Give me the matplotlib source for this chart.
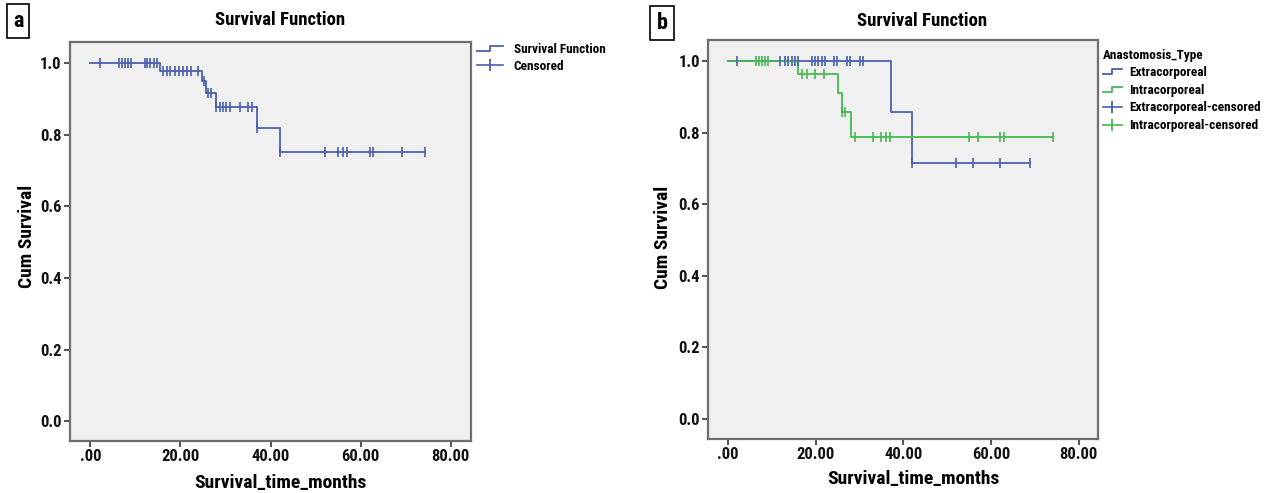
import numpy as np
import matplotlib
matplotlib.use("Agg")
import matplotlib.pyplot as plt
from matplotlib.legend_handler import HandlerBase
from matplotlib.lines import Line2D

# ---------------- data ----------------
# Panel a: overall
events_a = [15.4, 24.7, 25.6, 27.8, 37.0, 42.1]
surv_a = [0.978, 0.950, 0.917, 0.877, 0.818, 0.750]
censored_a = [2.1, 6.4, 7.0, 7.7, 8.4, 9.1, 12.1, 12.7, 13.3, 14.1, 14.8,
              16.2, 17.0, 17.8, 18.7, 19.6, 20.5, 21.4, 22.3, 23.9, 25.2,
              26.1, 26.9, 28.0, 28.7, 29.5, 30.2, 31.0, 33.2, 35.0, 35.8,
              37.0, 42.1, 52.1, 55.0, 56.1, 57.0, 62.1, 62.8, 69.1, 74.3]
end_a = 74.3

# Panel b: by anastomosis type
events_extra = [37.1, 42.0]
surv_extra = [0.857, 0.714]
censored_extra = [2.0, 11.9, 13.1, 13.8, 14.6, 15.3, 15.9, 19.1, 19.9, 20.6,
                  21.4, 22.2, 24.1, 24.8, 27.1, 27.8, 30.1, 30.9, 42.0, 52.0,
                  55.9, 62.0, 69.0]
end_extra = 69.0

events_intra = [15.9, 25.1, 26.0, 28.1]
surv_intra = [0.963, 0.911, 0.858, 0.789]
censored_intra = [6.4, 7.0, 7.7, 8.4, 9.1, 16.8, 18.0, 19.9, 21.9, 26.0, 26.7,
                  29.0, 33.0, 34.9, 36.0, 37.0, 55.0, 57.1, 62.0, 62.9, 74.2]
end_intra = 74.2

x_ticks = [0, 20, 40, 60, 80]
x_ticklabels = [".00", "20.00", "40.00", "60.00", "80.00"]
y_ticks = [0.0, 0.2, 0.4, 0.6, 0.8, 1.0]
y_ticklabels = ["0.0", "0.2", "0.4", "0.6", "0.8", "1.0"]

# ---------------- style ----------------
FONT = ['Roboto Condensed', 'PT Sans Narrow', 'DejaVu Sans']
plt.rcParams['font.family'] = FONT
plt.rcParams['font.weight'] = 'bold'

BLUE = '#4a5fb0'
GREEN = '#45b951'
BG = '#f0f0f0'
FRAME = '#6e6e6e'

TITLE_FS = 13.5
LABEL_FS = 14
TICK_FS = 12
LEG_FS = 9.5

W, H = 1269, 493
fig = plt.figure(figsize=(W / 100, H / 100), dpi=100)


def px_axes(l, t, r, b):
    return fig.add_axes([l / W, 1 - b / H, (r - l) / W, (b - t) / H])


def km_xy(events, surv, end):
    x = [0.0] + list(events) + [end]
    y = [1.0] + list(surv) + [surv[-1]]
    return x, y


def censor_y(events, surv, times):
    levels = np.array([1.0] + list(surv))
    idx = np.searchsorted(np.array(events), np.array(times), side='right')
    return levels[idx]


def style_axes(ax):
    ax.set_facecolor(BG)
    ax.set_xlim(-4.5, 84.5)
    ax.set_ylim(-0.055, 1.059)
    for s in ax.spines.values():
        s.set_color(FRAME)
        s.set_linewidth(1.6)
    ax.set_xticks(x_ticks)
    ax.set_xticklabels(x_ticklabels)
    ax.set_yticks(y_ticks)
    ax.set_yticklabels(y_ticklabels)
    ax.tick_params(direction='out', length=4, width=1.2, color='#333333',
                   labelsize=TICK_FS, pad=2)
    for lab in ax.get_xticklabels() + ax.get_yticklabels():
        lab.set_fontweight('bold')
        lab.set_color('#111111')


class StepHandler(HandlerBase):
    def create_artists(self, legend, orig_handle, xdescent, ydescent,
                       width, height, fontsize, trans):
        x0, y0 = -xdescent, -ydescent
        xs = [x0, x0 + 0.45 * width, x0 + 0.45 * width, x0 + width * 0.9]
        ys = [y0 + 0.2 * height, y0 + 0.2 * height, y0 + 0.75 * height,
              y0 + 0.75 * height]
        ln = Line2D(xs, ys, color=orig_handle.get_color(), lw=1.3,
                    transform=trans)
        return [ln]


class CensorHandler(HandlerBase):
    def create_artists(self, legend, orig_handle, xdescent, ydescent,
                       width, height, fontsize, trans):
        x0, y0 = -xdescent, -ydescent
        yc = y0 + 0.45 * height
        ln = Line2D([x0, x0 + width * 0.9], [yc, yc],
                    color=orig_handle.get_color(), lw=1.2, transform=trans)
        mk = Line2D([x0 + width * 0.45], [yc], marker='|', markersize=9,
                    mew=1.3, color=orig_handle.get_color(), transform=trans)
        return [ln, mk]


class StepProxy(Line2D):
    pass


class CensorProxy(Line2D):
    pass


HMAP = {StepProxy: StepHandler(), CensorProxy: CensorHandler()}
LEGPROP = {'family': FONT, 'weight': 'bold', 'size': LEG_FS}

# ---------------- panel a ----------------
ax1 = px_axes(70, 41.7, 471, 441)
style_axes(ax1)
x, y = km_xy(events_a, surv_a, end_a)
ax1.step(x, y, where='post', color=BLUE, lw=1.3)
ax1.plot(censored_a, censor_y(events_a, surv_a, censored_a), ls='none',
         marker='|', markersize=7, mew=1.2, color=BLUE)

h1 = StepProxy([], [], color=BLUE)
h2 = CensorProxy([], [], color=BLUE)
fig.legend([h1, h2], ["Survival Function", "Censored"], handler_map=HMAP,
           loc='upper left', bbox_to_anchor=(474 / W, 1 - 40 / H),
           frameon=False, prop=LEGPROP,
           handlelength=2.2, handletextpad=0.6, labelspacing=0.3,
           borderaxespad=0, borderpad=0.2)

fig.text(280 / W, 1 - 20 / H, "Survival Function", ha='center', va='center',
         fontsize=TITLE_FS, fontweight='bold')
fig.text(280 / W, 1 - 483 / H, "Survival_time_months", ha='center',
         va='center', fontsize=LABEL_FS, fontweight='bold')
fig.text(27 / W, 1 - 236 / H, "Cum Survival", ha='center', va='center',
         rotation=90, fontsize=LABEL_FS, fontweight='bold')
fig.text(18 / W, 1 - 21 / H, "a", ha='center', va='center', fontsize=16,
         fontweight='bold',
         bbox=dict(boxstyle='square,pad=0.25', fc='white', ec='black', lw=1.2))

# ---------------- panel b ----------------
ax2 = px_axes(708.3, 40, 1098.3, 438.7)
style_axes(ax2)
xb, yb = km_xy(events_extra, surv_extra, end_extra)
ax2.step(xb, yb, where='post', color=BLUE, lw=1.3)
xg, yg = km_xy(events_intra, surv_intra, end_intra)
ax2.step(xg, yg, where='post', color=GREEN, lw=1.3)
ax2.plot(censored_extra, censor_y(events_extra, surv_extra, censored_extra),
         ls='none', marker='|', markersize=7, mew=1.2, color=BLUE)
ax2.plot(censored_intra, censor_y(events_intra, surv_intra, censored_intra),
         ls='none', marker='|', markersize=7, mew=1.2, color=GREEN)

hb1 = StepProxy([], [], color=BLUE)
hb2 = StepProxy([], [], color=GREEN)
hb3 = CensorProxy([], [], color=BLUE)
hb4 = CensorProxy([], [], color=GREEN)
fig.legend([hb1, hb2, hb3, hb4],
           ["Extracorporeal", "Intracorporeal", "Extracorporeal-censored",
            "Intracorporeal-censored"],
           handler_map=HMAP,
           loc='upper left', bbox_to_anchor=(1100 / W, 1 - 46 / H),
           frameon=False, prop=LEGPROP,
           title="Anastomosis_Type",
           title_fontproperties=LEGPROP,
           alignment='left',
           handlelength=1.6, handletextpad=0.4, labelspacing=0.35,
           borderaxespad=0, borderpad=0.2)

fig.text(922 / W, 1 - 21 / H, "Survival Function", ha='center', va='center',
         fontsize=TITLE_FS, fontweight='bold')
fig.text(913 / W, 1 - 479 / H, "Survival_time_months", ha='center',
         va='center', fontsize=LABEL_FS, fontweight='bold')
fig.text(663 / W, 1 - 237 / H, "Cum Survival", ha='center', va='center',
         rotation=90, fontsize=LABEL_FS, fontweight='bold')
fig.text(662 / W, 1 - 23 / H, "b", ha='center', va='center', fontsize=16,
         fontweight='bold',
         bbox=dict(boxstyle='square,pad=0.28', fc='white', ec='black', lw=1.2))

fig.savefig("out.png", dpi=100, facecolor='white')
